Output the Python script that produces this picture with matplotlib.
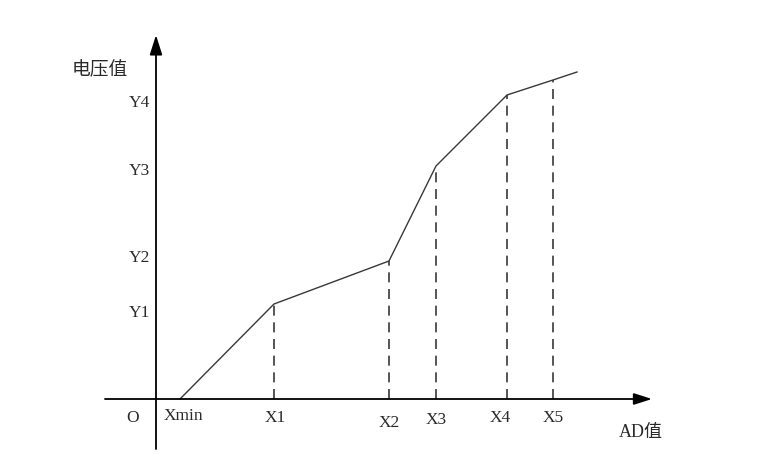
import numpy as np
import matplotlib
matplotlib.use("Agg")
from matplotlib import pyplot as plt

# break points of the curve (x = AD value, y = voltage), origin at axis crossing
x_pts = [24, 118, 233, 280, 351, 397, 421]
y_pts = [0, 95, 138, 233, 304, 319, 327]
x_names = ["Xmin", "X1", "X2", "X3", "X4", "X5"]
y_names = ["Y1", "Y2", "Y3", "Y4"]
y_title = "电压值"
x_title = "AD值"

# small per-label nudges (layout only)
x_nudge = [(3, -17), (1, -19), (0, -24), (0, -21), (-7, -19), (0, -19)]
y_nudge = [-9, 3, -5, -8]

fam = ["Liberation Serif", "Noto Sans CJK SC", "DejaVu Sans"]
col = "#2a2a2a"

fig = plt.figure(figsize=(7.62, 4.67), dpi=100)
ax = fig.add_axes([0, 0, 1, 1])
ax.set_xlim(-156, 606)
ax.set_ylim(-68, 399)
ax.axis("off")

# axes with arrows
ax.annotate("", xy=(0, 364), xytext=(0, -50),
            arrowprops=dict(arrowstyle="-|>,head_length=1.2,head_width=0.38",
                            color="black", lw=1.3, shrinkA=0, shrinkB=0))
ax.annotate("", xy=(496, 0), xytext=(-51, 0),
            arrowprops=dict(arrowstyle="-|>,head_length=1.1,head_width=0.35",
                            color="black", lw=1.3, shrinkA=0, shrinkB=0))

# curve
ax.plot(x_pts, y_pts, color="#383838", lw=1.0)

# dashed drop lines
for xv, yv in zip(x_pts[1:6], y_pts[1:6]):
    ax.plot([xv, xv], [0, yv], color="#383838", lw=1.2, ls=(0, (6, 4)))

# x labels
for name, xv, (dx, dy) in zip(x_names, x_pts[:6], x_nudge):
    ax.text(xv + dx, dy, name, ha="center", va="center", fontsize=12.5,
            family=fam, color=col)

# y labels
for name, yv, dy in zip(y_names, y_pts[1:5], y_nudge):
    ax.text(-17, yv + dy, name, ha="center", va="center", fontsize=12.5,
            family=fam, color=col)

ax.text(-23, -19, "O", ha="center", va="center", fontsize=12.5, family=fam, color=col)
ax.text(-56, 329, y_title, ha="center", va="center", fontsize=13.5, family=fam, color=col)
ax.text(485, -34, x_title, ha="center", va="center", fontsize=13, family=fam, color=col)

fig.savefig("out.png", dpi=100)
